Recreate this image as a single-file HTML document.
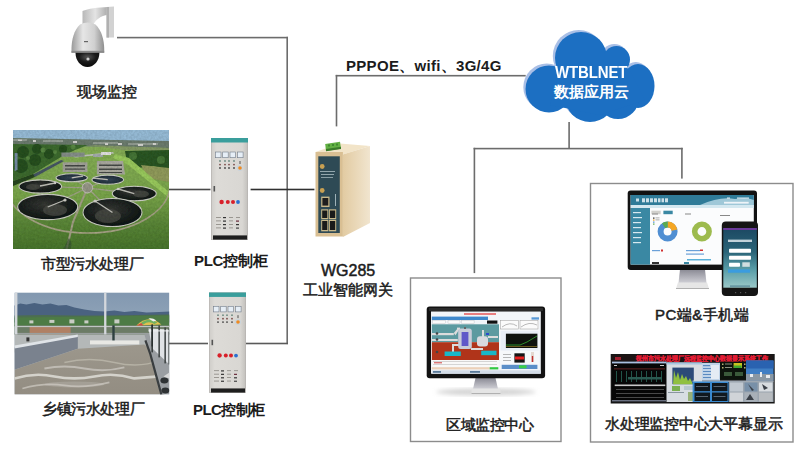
<!DOCTYPE html>
<html><head><meta charset="utf-8">
<style>
html,body{margin:0;padding:0;background:#fff;}
body{width:800px;height:452px;position:relative;overflow:hidden;font-family:"Liberation Sans",sans-serif;color:#222;}
svg{position:absolute;left:0;top:0;}
.t{position:absolute;white-space:nowrap;line-height:1;font-size:15px;color:#1c1c1c;-webkit-text-stroke:0.5px #1c1c1c;}
.b{font-weight:bold;-webkit-text-stroke:0;}
.w{color:#fff;-webkit-text-stroke:0;font-weight:bold;}
</style></head><body>
<svg width="800" height="452" viewBox="0 0 800 452">
<defs>
  <linearGradient id="dome" x1="0" x2="1" y1="0" y2="0">
    <stop offset="0" stop-color="#9a9a9a"/><stop offset="0.35" stop-color="#e6e6e6"/><stop offset="0.7" stop-color="#d0d0d0"/><stop offset="1" stop-color="#8e8e8e"/>
  </linearGradient>
  <linearGradient id="brk" x1="0" x2="1" y1="0" y2="0">
    <stop offset="0" stop-color="#b8b8b8"/><stop offset="0.5" stop-color="#e4e4e4"/><stop offset="1" stop-color="#a8a8a8"/>
  </linearGradient>
  <radialGradient id="lens" cx="0.5" cy="0.3" r="0.7">
    <stop offset="0" stop-color="#555"/><stop offset="0.5" stop-color="#1a1a1a"/><stop offset="1" stop-color="#080808"/>
  </radialGradient>
  <linearGradient id="plcbody" x1="0" x2="1" y1="0" y2="0">
    <stop offset="0" stop-color="#cfcdc9"/><stop offset="0.15" stop-color="#dddbd7"/><stop offset="0.85" stop-color="#d9d7d3"/><stop offset="1" stop-color="#c2c0bc"/>
  </linearGradient>
  <linearGradient id="side" x1="0" x2="1" y1="0" y2="0">
    <stop offset="0" stop-color="#e2cba2"/><stop offset="1" stop-color="#f1e5cf"/>
  </linearGradient>
  <linearGradient id="sky1" x1="0" x2="0" y1="0" y2="1">
    <stop offset="0" stop-color="#93bcd9"/><stop offset="1" stop-color="#c9dbe4"/>
  </linearGradient>
  <linearGradient id="grass1" x1="0" x2="0" y1="0" y2="1">
    <stop offset="0" stop-color="#6f9a4a"/><stop offset="0.5" stop-color="#86ad58"/><stop offset="1" stop-color="#4f7a36"/>
  </linearGradient>
  <linearGradient id="sky2" x1="0" x2="0" y1="0" y2="1">
    <stop offset="0" stop-color="#7f98b2"/><stop offset="1" stop-color="#a9b8c6"/>
  </linearGradient>
  <linearGradient id="water2" x1="0" x2="0" y1="0" y2="1">
    <stop offset="0" stop-color="#8f8a7e"/><stop offset="1" stop-color="#9a9384"/>
  </linearGradient>
  <linearGradient id="phone" x1="0" x2="0" y1="0" y2="1">
    <stop offset="0" stop-color="#1c4862"/><stop offset="0.4" stop-color="#2a6478"/><stop offset="0.7" stop-color="#5a9ea8"/><stop offset="1" stop-color="#9ac8c8"/>
  </linearGradient>
  <linearGradient id="stand" x1="0" x2="0" y1="0" y2="1">
    <stop offset="0" stop-color="#8a8a94"/><stop offset="0.6" stop-color="#b4b4bc"/><stop offset="1" stop-color="#d0d0d6"/>
  </linearGradient>
  <filter id="blur1"><feGaussianBlur stdDeviation="2"/></filter>
  <filter id="blur05"><feGaussianBlur stdDeviation="0.5"/></filter>

  <g id="plc">
    <rect x="0.3" y="0.3" width="36.4" height="101.4" fill="url(#plcbody)" stroke="#a8a6a2" stroke-width="0.6"/>
    <rect x="0" y="0" width="37" height="4.5" fill="#3a9e9c"/>
    <rect x="4.5" y="14" width="5.5" height="5.7" fill="#e6eef6" stroke="#707a88" stroke-width="0.6"/>
    <rect x="11.7" y="14" width="5.5" height="5.7" fill="#e6eef6" stroke="#707a88" stroke-width="0.6"/>
    <rect x="19" y="14" width="5.5" height="5.7" fill="#e6eef6" stroke="#707a88" stroke-width="0.6"/>
    <rect x="26.6" y="14" width="5.5" height="5.7" fill="#e6eef6" stroke="#707a88" stroke-width="0.6"/>
    <g fill="#6a8a80"><circle cx="9" cy="23" r="0.9"/><circle cx="14" cy="23" r="0.9"/><circle cx="18" cy="23" r="0.9"/><circle cx="23" cy="23" r="0.9"/></g>
    <g fill="#7a4a48"><circle cx="9" cy="26.6" r="0.9"/><circle cx="14" cy="26.6" r="0.9"/><circle cx="18" cy="26.6" r="0.9"/><circle cx="23" cy="26.6" r="0.9"/></g>
    <g fill="#444"><circle cx="9" cy="30" r="0.9"/><circle cx="14" cy="30" r="0.9"/><circle cx="18" cy="30" r="0.9"/><circle cx="23" cy="30" r="0.9"/></g>
    <circle cx="29" cy="30" r="3" fill="#c8d4dc"/>
    <circle cx="29" cy="30" r="1.8" fill="#f08a20"/>
    <rect x="28.5" y="23" width="1" height="3" fill="#555"/>
    <rect x="2.5" y="48" width="1.6" height="5.5" fill="#555"/>
    <circle cx="10.6" cy="64" r="2.2" fill="#d8202a"/>
    <circle cx="16.8" cy="64" r="2" fill="#d8202a"/>
    <circle cx="22" cy="64" r="2" fill="#d8202a"/>
    <circle cx="27" cy="64" r="1.9" fill="#2a70d0"/>
    <g fill="#8a8680"><rect x="5" y="79" width="5" height="0.8"/><rect x="12" y="79" width="3" height="1.2" fill="#333"/><rect x="18" y="79" width="4" height="0.8"/><rect x="25" y="79" width="4" height="0.8"/>
    <rect x="5" y="82.5" width="5" height="0.8"/><rect x="12" y="82.5" width="3" height="1.2" fill="#333"/><rect x="18" y="82.5" width="4" height="0.8"/><rect x="25" y="82.5" width="3" height="1.2" fill="#6a2a3a"/>
    <rect x="5" y="86" width="5" height="0.8"/><rect x="12" y="86" width="3" height="1.2" fill="#333"/><rect x="18" y="86" width="4" height="0.8"/><rect x="25" y="86" width="3" height="1.2" fill="#333"/>
    <rect x="5" y="89.5" width="5" height="0.8"/><rect x="12" y="89.5" width="3" height="1.2" fill="#333"/><rect x="18" y="89.5" width="4" height="0.8"/><rect x="25" y="89.5" width="3" height="1.2" fill="#444"/></g>
    <rect x="2" y="97.4" width="34" height="4.2" fill="#1e1e1e"/>
  </g>
</defs>


<!-- camera -->
<g>
  <path d="M82.5,11 C88,8.5 98,7.6 108,7 L108,15 C101,15.5 95,19.5 92.5,27 L82.5,27 Z" fill="url(#brk)"/>
  <path d="M106.5,7 L114,6.5 L114,37.6 L106.5,37.6 Z" fill="#d2d2d2"/>
  <path d="M106.5,7 L109,7 L109,37.6 L106.5,37.6 Z" fill="#b0b0b0"/>
  <path d="M80,24.5 C74,30 71.5,40 71.5,49 L71.5,52.8 L104.2,52.8 L104.2,49 C104.2,40 101.5,30 95.5,24.5 Q87.7,20.5 80,24.5 Z" fill="url(#dome)"/>
  <rect x="71.5" y="50.8" width="32.7" height="2" fill="#8a8a8a"/>
  <path d="M75.5,52.8 L99.4,52.8 C99.4,61 94,67 87.5,67 C81,67 75.5,61 75.5,52.8 Z" fill="url(#lens)"/>
  <circle cx="88" cy="59" r="1.6" fill="#cfcfcf"/>
  <rect x="84" y="41" width="4" height="1.2" fill="#666"/>
</g>

<!-- photo 1 : municipal plant -->
<g>
  <svg x="13" y="130" width="156" height="119" viewBox="0 0 156 119" preserveAspectRatio="none">
    <defs>
      <linearGradient id="g1grass" x1="0" x2="0" y1="0" y2="1">
        <stop offset="0" stop-color="#8fb85e"/><stop offset="0.55" stop-color="#7eab4e"/><stop offset="0.8" stop-color="#5d8a3a"/><stop offset="1" stop-color="#4c7a30"/>
      </linearGradient>
      <radialGradient id="g1dark" cx="0.45" cy="0.4" r="0.7">
        <stop offset="0" stop-color="#3a3c38"/><stop offset="0.6" stop-color="#1c2220"/><stop offset="1" stop-color="#141816"/>
      </radialGradient>
      <radialGradient id="g1navy" cx="0.5" cy="0.5" r="0.6">
        <stop offset="0" stop-color="#3a4a5a"/><stop offset="1" stop-color="#1e2a36"/>
      </radialGradient>
      <filter id="tex1" x="0" y="0" width="1" height="1">
        <feTurbulence type="fractalNoise" baseFrequency="0.45" numOctaves="2" seed="3" result="n"/>
        <feColorMatrix in="n" type="matrix" values="0 0 0 0 0  0 0 0 0 0  0 0 0 0 0  0 0 0 0.35 0" result="na"/>
        <feComposite in="na" in2="SourceGraphic" operator="in" result="nb"/>
        <feMerge><feMergeNode in="SourceGraphic"/><feMergeNode in="nb"/></feMerge>
      </filter>
    </defs>
    <g filter="url(#tex1)">
    <rect width="156" height="119" fill="url(#g1grass)"/>
    <path d="M0,0 L156,0 L156,12 L0,8.5 Z" fill="#9cc2de"/>
    <path d="M0,8 L156,11 L156,18 L0,15 Z" fill="#6f8072"/>
    <g fill="#9aa49a"><rect x="0" y="9" width="14" height="2"/><rect x="30" y="10" width="20" height="2"/><rect x="80" y="12" width="25" height="2"/><rect x="115" y="13" width="30" height="2"/></g>
    <g fill="#dcdcd8"><rect x="20" y="10" width="3" height="2"/><rect x="60" y="11" width="4" height="2"/><rect x="105" y="13" width="4" height="2"/><rect x="125" y="14" width="5" height="2"/><rect x="140" y="13" width="3" height="2"/><rect x="5" y="9.5" width="4" height="1.5"/><rect x="92" y="13" width="3" height="2"/></g>
    <path d="M0,14 L75,15 L62,20 L48,27 L20,44 L0,51 Z" fill="#3f6e32"/>
    <g fill="#2a5224"><circle cx="10" cy="22" r="6"/><circle cx="24" cy="19" r="5"/><circle cx="8" cy="36" r="7"/><circle cx="22" cy="30" r="6"/><circle cx="36" cy="24" r="5"/><circle cx="50" cy="19" r="4"/></g>
    <g fill="#5a8a44"><circle cx="30" cy="20" r="2.5"/><circle cx="15" cy="28" r="2"/><circle cx="42" cy="22" r="2"/><circle cx="60" cy="17" r="2.5"/></g>
    <path d="M1.7,23 L4.5,23 L4.5,40 L1.7,41 Z" fill="#7890a8"/>
    <path d="M19,45 L48,30 L51,31 L22,47 Z" fill="#4a5a68"/>
    <path d="M0,51 L20,44 L22,47 L0,56 Z" fill="#2a4a22"/>
    <path d="M75,15 L156,18 L156,22 L110,20 Z" fill="#8aa06a"/>
    <path d="M112,21 L156,20 L156,40 L140,36 L125,38 L114,32 Z" fill="#2f5a26"/>
    <g fill="#4a7a3a"><circle cx="120" cy="26" r="4"/><circle cx="148" cy="30" r="4"/></g>
    <path d="M128,35 L156,38 L156,52 L135,48 Z" fill="#96a05e"/>
    <path d="M102,24 L116,28 L156,62 L156,68 L114,34 L100,28 Z" fill="#9ed060"/>
    <path d="M60,26 L100,22 L101,23.5 L62,27.5 Z" fill="#c8ccc4"/>
    <rect x="48.4" y="22.5" width="23.3" height="4.3" fill="#8a948e"/>
    <rect x="80" y="24" width="10" height="3" fill="#a8b0b0"/>
    <rect x="88" y="22" width="10" height="3" fill="#e8e8e8"/>
    <path d="M49.7,32.3 L74.4,32.3 L74.4,42 L49.7,42 Z" fill="#a7a89e"/>
    <path d="M83.9,31 L110,31 L112,44.6 L83.9,44.6 Z" fill="#b0b0a6"/>
    <g fill="#4a4e4a"><rect x="52" y="35" width="20" height="1.5"/><rect x="52" y="38.5" width="20" height="1.2"/><rect x="86" y="34.5" width="23" height="1.5"/><rect x="86" y="38.5" width="23" height="1.5"/><rect x="86" y="42" width="23" height="1"/></g>
    <path d="M-7,55 A82,48 0 0 0 157,55" fill="none" stroke="#aca88a" stroke-width="1.6"/>
    <path d="M74.4,57.8 L60,92 L53.7,119" fill="none" stroke="#a8a48a" stroke-width="2"/>
    <g stroke="#a8a890" stroke-width="1.2" fill="none"><line x1="74.4" y1="57.8" x2="58.7" y2="47.8"/><line x1="74.4" y1="57.8" x2="94.8" y2="49.7"/><line x1="74.4" y1="57.8" x2="27.3" y2="56.5"/><line x1="74.4" y1="57.8" x2="121.3" y2="63.6"/><line x1="74.4" y1="57.8" x2="34.7" y2="77"/><line x1="74.4" y1="57.8" x2="99.5" y2="82.5"/></g>
    <g stroke="#d4d6cc" stroke-width="1.1">
      <ellipse cx="58.7" cy="47.8" rx="15.7" ry="4" fill="url(#g1navy)"/>
      <ellipse cx="94.8" cy="49.7" rx="15.8" ry="4.6" fill="url(#g1navy)"/>
      <ellipse cx="27.3" cy="56.5" rx="21.3" ry="6.6" fill="url(#g1dark)"/>
      <ellipse cx="121.3" cy="63.6" rx="22" ry="7.3" fill="url(#g1dark)"/>
      <ellipse cx="34.7" cy="77" rx="30" ry="12.6" fill="url(#g1dark)"/>
      <ellipse cx="99.5" cy="82.5" rx="29.5" ry="14" fill="url(#g1dark)"/>
    </g>
    <g fill="#4c4e48" opacity="0.8"><ellipse cx="42" cy="80" rx="12" ry="6"/><ellipse cx="95" cy="86" rx="13" ry="7"/><ellipse cx="128" cy="64" rx="8" ry="3.5"/><ellipse cx="20" cy="57" rx="7" ry="3"/></g>
    <g stroke="#c8c8c0" stroke-width="1.3"><line x1="27" y1="56" x2="42" y2="53"/><line x1="34.7" y1="77" x2="52" y2="70"/><line x1="99.5" y1="82.5" x2="82" y2="71"/><line x1="121.3" y1="63.6" x2="105" y2="59"/><line x1="58.7" y1="47.8" x2="70" y2="46"/><line x1="94.8" y1="49.7" x2="80" y2="48"/></g>
    <g fill="#d8d8d0"><circle cx="42" cy="53" r="1.3"/><circle cx="52" cy="70" r="1.6"/><circle cx="82" cy="71" r="1.6"/><circle cx="105" cy="59" r="1.2"/></g>
    <circle cx="74.4" cy="57.8" r="5.2" fill="#9c9c8c" stroke="#c8c8bc" stroke-width="1"/>
    <path d="M56,108 Q60,114 58,119 L50,119 Z" fill="#3a5a32" opacity="0.7"/>
    </g>
  </svg>
</g>

<!-- photo 2 : township plant -->
<g>
  <svg x="14.4" y="292.4" width="155" height="102.2" viewBox="0 0 155 102.2" preserveAspectRatio="none">
    <defs>
      <linearGradient id="g2sky" x1="0" x2="0" y1="0" y2="1">
        <stop offset="0" stop-color="#8298b0"/><stop offset="1" stop-color="#b4c0cc"/>
      </linearGradient>
      <linearGradient id="g2water" x1="0" x2="0" y1="0" y2="1">
        <stop offset="0" stop-color="#9c978c"/><stop offset="1" stop-color="#938d82"/>
      </linearGradient>
    </defs>
    <rect width="155" height="102.2" fill="url(#g2sky)"/>
    <path d="M0,13 L6,11 L12,12 L20,10.5 L28,12 L36,11 L44,13 L52,12.5 L60,15 L70,17 L80,18.5 L90,19 L100,18 L110,19.5 L120,18.5 L132,20 L145,19.5 L155,19 L155,30 L0,30 Z" fill="#4a6280"/>
    <path d="M0,23 L30,22.5 L60,23 L90,23 L155,22 L155,34 L0,34 Z" fill="#4c6e50"/>
    <path d="M0,25 L155,23 L155,34 L0,34 Z" fill="#4f8040" opacity="0.7"/>
    <g fill="#c8ccc4"><rect x="15" y="28" width="4" height="3"/><rect x="35" y="27.5" width="5" height="3"/><rect x="55" y="27" width="5" height="4"/><rect x="70" y="28" width="4" height="3"/><rect x="100" y="27" width="5" height="4"/></g>
    <rect x="0" y="33" width="155" height="9.5" fill="#6c7c66"/><rect x="15.2" y="34" width="41" height="8.2" fill="#b08064"/>
    <rect x="0" y="33.5" width="155" height="1.2" fill="#c0c4c4"/>
    <rect x="0" y="40.5" width="155" height="1.2" fill="#9aa0a0"/>
    <path d="M0,42 L135,42 L135,58 L0,60 Z" fill="#b4b8b8"/>
    <path d="M0,55 L63.4,43.4 L63.4,56.4 L0,77.4 Z" fill="#7a828e"/>
    <path d="M0,53 L63.4,42 L63.4,44.5 L0,56 Z" fill="#e0e4e8"/>
    <path d="M0,77.4 L63.4,56.4 L130,52 L140,60 L150,102.2 L0,102.2 Z" fill="url(#g2water)"/>
    <path d="M0,86 Q20,80 40,84 T80,84 T120,86 L145,84" fill="none" stroke="#e4e2dc" stroke-width="2.6" opacity="0.8"/><path d="M30,76 Q50,72 70,76 T110,75" fill="none" stroke="#d8d6d0" stroke-width="2" opacity="0.6"/><ellipse cx="60" cy="92" rx="30" ry="3" fill="#b4b0a8" opacity="0.5"/>
    <path d="M8,96 Q30,90 50,93 T95,90" fill="none" stroke="#d0ccc4" stroke-width="1.6" opacity="0.7"/>
    <path d="M50,70 Q75,64 100,70 T145,68" fill="none" stroke="#c8c4b8" stroke-width="1.5" opacity="0.6"/>
    <rect x="75.6" y="48" width="49.3" height="4" fill="#e8e8e4"/>
    <path d="M130,42 L155,40 L155,102.2 L146,102.2 L134,56 Z" fill="#9a9ea2"/>
    <path d="M134,36 L155,37 L155,72 L138,56 Z" fill="#dfe2e5"/>
    <path d="M131,48 L136,62 L142,84 L147,102.2" fill="none" stroke="#3a3e40" stroke-width="2.2"/>
    <g fill="#3a4040"><rect x="137" y="30" width="1.6" height="30"/><rect x="144" y="33" width="1.5" height="32"/><rect x="150" y="35" width="1.5" height="36"/><rect x="154" y="36" width="1" height="36"/></g>
    <g fill="#f0f2f4"><rect x="134" y="38" width="21" height="1"/></g>
    <g fill="#2e3234"><ellipse cx="150" cy="88" rx="4" ry="3"/><ellipse cx="151" cy="98" rx="4" ry="3"/></g>
    <path d="M149,84 L155,80 L155,86 Z" fill="#d8d8d8"/>
    <rect x="0.6" y="0" width="2.4" height="42" fill="#d4d8dc"/>
    <rect x="89.7" y="0" width="2.3" height="42" fill="#d4d8dc"/>
    <rect x="97.9" y="33" width="2.4" height="15" fill="#2e4040"/>
    <rect x="12" y="45" width="3" height="4" fill="#333"/>
    <path d="M122,33 Q134,21 147,32 Z" fill="#e0c050"/>
    <path d="M126,31 Q134,24 143,30 L140,31.5 Q134,28 129,32 Z" fill="#70b060"/>
    <path d="M122,33 L127,30.5 L129,33 Z" fill="#d04848"/>
    <path d="M134,26 Q138,25 142,28 L139,29 Z" fill="#f0f0f0"/>
    <rect x="137" y="32" width="1.6" height="22" fill="#2a3030"/>
  </svg>
</g>

<!-- PLC cabinets -->
<use href="#plc" x="211" y="138"/>
<use href="#plc" transform="translate(209,292.5) scale(1,0.985)"/>

<!-- router -->
<g>
  <path d="M315.5,152 L342.9,154.5 L370,146 L340,143.5 Z" fill="#f2e4c8"/>
  <path d="M325.2,144 L340,141.8 L341,148.8 L326,151 Z" fill="#62b043"/>
  <path d="M326,149 L341,146.8 L341,149 L326,151.2 Z" fill="#3a7a2a"/>
  <g fill="#3f8a30"><rect x="328" y="144.5" width="2" height="2"/><rect x="332" y="144" width="2" height="2"/><rect x="336" y="143.5" width="2" height="2"/></g>
  <path d="M342.9,154.5 L370,146 L370,223 L342.9,237 Z" fill="url(#side)"/>
  <rect x="315.5" y="152" width="27.4" height="84.5" fill="#d9bf93"/>
  <rect x="318.3" y="156.3" width="21.5" height="76.7" fill="#2e4a55"/>
  <circle cx="322.2" cy="166.5" r="2.4" fill="#c8a052"/>
  <circle cx="322.2" cy="190.5" r="2.4" fill="#c8a052"/>
  <g fill="#9fb2b8"><rect x="320" y="171" width="15" height="0.9"/><rect x="321" y="174" width="13" height="0.9"/><rect x="321" y="177" width="12" height="0.8"/><rect x="335" y="194" width="1" height="12"/></g>
  <rect x="321.2" y="196.6" width="8.3" height="10.4" fill="#c9b88a"/>
  <rect x="322.4" y="198" width="5.9" height="7.6" fill="#1e1e1e"/>
  <g fill="#c9b88a"><rect x="321.2" y="209.3" width="7.1" height="9.7"/><rect x="328.9" y="209.3" width="7.3" height="9.7"/><rect x="321.2" y="219.7" width="7.1" height="11.6"/><rect x="328.9" y="219.7" width="7.3" height="11.6"/></g>
  <g fill="#1a1a1a"><rect x="322.2" y="210.5" width="5.1" height="7.5"/><rect x="329.9" y="210.5" width="5.3" height="7.5"/><rect x="322.2" y="221" width="5.1" height="9"/><rect x="329.9" y="221" width="5.3" height="9"/></g>
</g>

<!-- cloud -->
<g>
  <g fill="#a9bfe6" transform="translate(-2.2,-2)"><circle cx="581" cy="58" r="26"/><circle cx="616.5" cy="59.5" r="13.5"/><ellipse cx="638" cy="86" rx="16.5" ry="22"/><circle cx="549" cy="89" r="23.5"/><circle cx="590" cy="97" r="25"/><circle cx="618" cy="98" r="21"/><path d="M560,70 L600,50 L630,70 L645,100 L600,115 L550,105 Z"/></g>
  <g fill="#1c6fc2"><circle cx="581" cy="58" r="26"/><circle cx="616.5" cy="59.5" r="13.5"/><ellipse cx="638" cy="86" rx="16.5" ry="22"/><circle cx="549" cy="89" r="23.5"/><circle cx="590" cy="97" r="25"/><circle cx="618" cy="98" r="21"/><path d="M560,70 L600,50 L630,70 L645,100 L600,115 L550,105 Z"/></g>
</g>

<!-- monitor 1 (box 1) -->
<g>
  <ellipse cx="486" cy="392" rx="50" ry="3.5" fill="#d4d4d4" filter="url(#blur1)"/>
  <path d="M475.5,378 L495.5,378 L498,389 L473,389 Z" fill="url(#stand)"/>
  <rect x="471.5" y="388.5" width="29" height="5.5" fill="#e4e4e4"/>
  <rect x="471.5" y="393" width="29" height="1" fill="#b0b0b0"/>
  <rect x="426.7" y="306.4" width="118.4" height="71.8" rx="3" fill="#121212"/>
  <path d="M429,308 L543,308 L543,311 L429,311 Z" fill="#2a2a2a"/>
  <rect x="431" y="311.5" width="109.8" height="62.2" fill="#f2f5f9"/>
  <rect x="464" y="313.2" width="32" height="1.6" fill="#e03030" opacity="0.75"/>
  <rect x="431.8" y="316.6" width="56.2" height="3.4" fill="#3f88cc"/>
  <rect x="531.5" y="317.3" width="7.5" height="2.3" fill="#5a9ad8"/>
  <g fill="#fafafa" stroke="#b8bcc0" stroke-width="0.4"><rect x="432.6" y="320.6" width="13" height="3"/><rect x="448" y="320.6" width="12" height="3"/><rect x="461.6" y="320.6" width="12.5" height="3"/></g>
  <rect x="487" y="320.5" width="10.4" height="3.2" fill="#111"/>
  <rect x="431.8" y="324.3" width="67.2" height="17.9" fill="#5c9aa0"/>
  <rect x="431.8" y="342.2" width="67.2" height="17.8" fill="#b0341a"/>
  <g fill="#dcdcdc">
    <rect x="431.8" y="333" width="22" height="2.2"/><path d="M453.8,333 L458,328 L459.5,329 L455.5,335.2 Z"/><rect x="457" y="327.6" width="3" height="1.6"/>
    <rect x="431.8" y="339" width="26" height="2"/>
    <rect x="452" y="345" width="2" height="10"/><rect x="452" y="344" width="8" height="2"/>
    <rect x="471" y="348" width="12" height="2"/><rect x="488" y="336" width="10" height="2"/><rect x="482" y="330" width="2" height="7"/>
  </g>
  <g fill="#444"><circle cx="437" cy="333.5" r="1.3"/><circle cx="437" cy="339.5" r="1.3"/><circle cx="437" cy="352" r="1.3"/></g>
  <rect x="458.2" y="328.6" width="13.6" height="20.4" rx="2.5" fill="#c8ccd8"/>
  <rect x="461.6" y="332" width="6.8" height="14" fill="#6058c8"/>
  <rect x="464" y="327" width="2" height="2" fill="#666"/>
  <rect x="477" y="336.2" width="11" height="10.2" rx="3" fill="#d8dadf"/>
  <g fill="#18b8c8"><rect x="444.6" y="351.5" width="16.2" height="4.5"/><rect x="481.2" y="350.7" width="15.3" height="4.5"/></g>
  <rect x="486" y="333" width="3" height="2" fill="#2a4ad0"/>
  <rect x="431.8" y="360" width="67.2" height="7.2" fill="#f8f8f8"/>
  <g fill="#b0b0b0"><rect x="433" y="361.5" width="64" height="0.5"/><rect x="433" y="364" width="64" height="0.5"/></g>
  <g fill="#d04040"><rect x="434" y="362.3" width="8" height="1"/></g>
  <rect x="431.8" y="367.2" width="58" height="2.2" fill="#ecd0b8"/>
  <rect x="489.7" y="367.2" width="8.6" height="2.2" fill="#30c840"/>
  <rect x="431.8" y="370.3" width="109" height="3.4" fill="#d4dde8"/>
  <g fill="#5a7a9a"><rect x="433" y="371" width="8" height="1.8"/><rect x="470" y="371" width="10" height="1.8"/></g>
  <rect x="499" y="320" width="40" height="9.4" fill="#fbfbfb"/>
  <g fill="none" stroke="#999" stroke-width="0.5"><rect x="500.5" y="320.5" width="18" height="8.5"/><rect x="520" y="320.5" width="18" height="8.5"/></g>
  <path d="M502,327 Q510,321 517,326 M521,327 Q529,321 537,325" stroke="#777" stroke-width="0.5" fill="none"/>
  <rect x="500.8" y="331" width="37.5" height="19.7" fill="#e8eef6"/>
  <rect x="505.9" y="333.7" width="31.5" height="14.3" fill="#0e120e"/>
  <path d="M506,345 L520,345 L527,342 L537,336" stroke="#38c038" stroke-width="0.7" fill="none"/>
  <path d="M506,346.5 L537,346.5" stroke="#c0a030" stroke-width="0.5"/>
  <rect x="500" y="350.7" width="39" height="13.6" fill="#f6f8fa"/>
  <rect x="514.4" y="353.3" width="10.3" height="9.3" fill="#151515"/>
  <rect x="515" y="356.5" width="9" height="3" fill="#e82020"/>
  <rect x="531" y="352" width="3" height="10" fill="#e4d8d0"/><rect x="531.8" y="356" width="1.4" height="6" fill="#c03030"/>
  <g fill="#999"><rect x="503" y="354" width="8" height="0.7"/><rect x="503" y="357" width="8" height="0.7"/><rect x="503" y="360" width="8" height="0.7"/></g>
  <rect x="501.7" y="364.8" width="35.7" height="4.2" fill="#5a8ec8"/>
  <rect x="519" y="365.3" width="7.5" height="3" fill="#38d048"/>
</g>

<!-- PC monitor (box 2) -->
<g>
  <path d="M680,269.5 L705,269.5 L706.5,283 L678.5,283 Z" fill="url(#stand)"/>
  <path d="M678,282.5 L707,282.5 L709,288.7 L676,288.7 Z" fill="#e6e6e6"/>
  <rect x="676" y="288" width="33" height="1" fill="#b0b0b0"/>
  <rect x="627.7" y="190.5" width="129.3" height="79.5" rx="3" fill="#121212"/>
  <rect x="630.6" y="195" width="123.2" height="69.6" fill="#fbfcfd"/>
  <rect x="630.6" y="195" width="123.2" height="10" fill="#2f7b98"/>
  <path d="M700,205 Q720,196 735,199 Q748,197 753.8,200 L753.8,205 Z" fill="#9fc8d8"/>
  <g fill="#e8f2f6" opacity="0.85"><rect x="636" y="198.5" width="3" height="3"/><rect x="642" y="198.3" width="3" height="4"/><rect x="646" y="198.3" width="3" height="4"/><rect x="650" y="198.3" width="3" height="4"/><rect x="654" y="198.3" width="3" height="4"/><rect x="658" y="198.3" width="2.5" height="4"/><rect x="661.5" y="198.3" width="2.5" height="4"/><rect x="665" y="198.3" width="3" height="4"/></g>
  <rect x="724" y="201.8" width="24.7" height="1.8" fill="#eef4f8"/><g fill="#e0ecf2"><rect x="727" y="197.5" width="3" height="1.2"/><rect x="737" y="197.5" width="12" height="1.2"/></g>
  <rect x="630.6" y="205" width="123.2" height="3" fill="#d4e8f0"/>
  <rect x="630.6" y="208" width="19.4" height="56.6" fill="#3a88a3"/>
  <g fill="#d8eaf0"><rect x="633" y="212" width="8" height="1.2"/><rect x="633" y="217" width="9" height="1.2"/><rect x="633" y="222" width="8" height="1.2"/><rect x="633" y="227" width="8" height="1.2"/><rect x="633" y="232" width="9" height="1.2"/><rect x="633" y="237" width="8" height="1.2"/><rect x="633" y="242" width="8" height="1.2"/></g>
  <rect x="651.4" y="210.7" width="9.3" height="3.5" fill="#d0d0cc"/>
  <rect x="663.4" y="210.7" width="9.3" height="3.5" fill="#3a88a3"/>
  <g><rect x="653" y="217.5" width="1.5" height="1.2" fill="#333"/><rect x="653" y="219.5" width="1.5" height="1.2" fill="#f5a623"/><rect x="653" y="221.5" width="1.5" height="1.2" fill="#4f8ed2"/><rect x="653" y="223.5" width="1.5" height="1.2" fill="#5aaa50"/><rect x="655.5" y="217.5" width="4" height="0.8" fill="#999"/><rect x="655.5" y="219.5" width="4" height="0.8" fill="#999"/></g>
  <circle cx="667.6" cy="231.5" r="7" fill="none" stroke="#4f8ed2" stroke-width="6"/>
  <path d="M667.6,221.5 A10,10 0 0 1 677.4,229.5 L671.5,230.7 A4,4 0 0 0 667.6,227.5 Z" fill="#f5a623"/>
  <path d="M662,223.3 A10,10 0 0 1 667.6,221.5 L667.6,227.5 A4,4 0 0 0 665.4,228.2 Z" fill="#5aaa50"/>
  <circle cx="701.9" cy="231.5" r="7.2" fill="none" stroke="#9dbb4e" stroke-width="5.6"/>
  <g fill="#6aa0d8"><rect x="652" y="250" width="8" height="1.2"/><rect x="686" y="250" width="14" height="1.2"/><rect x="686" y="253.5" width="18" height="1.2"/></g>
  <g fill="#d03030"><rect x="661" y="249.5" width="2" height="2"/><rect x="700" y="249.5" width="3" height="1.5"/></g>
  <rect x="687" y="259" width="24" height="1.5" fill="#5ab0d8"/>
  <rect x="652" y="262" width="7" height="2" fill="#333"/>
  <rect x="684" y="262" width="5" height="2" fill="#3a88a3"/>
  <g fill="#888"><rect x="652" y="213.5" width="6" height="1"/><rect x="685" y="213.5" width="6" height="1"/><rect x="720" y="215" width="10" height="1"/></g>
</g>

<!-- phone -->
<g>
  <rect x="721.8" y="221.6" width="36.2" height="74.4" rx="4" fill="#151515"/>
  <rect x="723.3" y="228" width="33.5" height="59.7" fill="url(#phone)"/>
  <rect x="723.3" y="228" width="33.5" height="2" fill="#6a3a9a"/>
  <rect x="730" y="285.5" width="20" height="1.2" fill="#3a6a80" opacity="0.7"/>
  <g fill="#e8f0f4"><rect x="728" y="239.6" width="24" height="2.4" opacity="0.8"/></g>
  <g fill="#ffffff"><rect x="729" y="248.8" width="22" height="4" rx="0.8"/><rect x="729" y="255.8" width="22" height="4" rx="0.8"/><rect x="729" y="262.8" width="11" height="4" rx="0.8"/></g>
  <rect x="742.3" y="262.3" width="7.5" height="4.5" fill="#e8ecec" opacity="0.85"/>
  <rect x="728" y="269.4" width="22" height="3.3" fill="#3a9ce0"/>
  <g fill="#555"><rect x="735" y="292" width="1.2" height="1.2"/><rect x="740" y="292" width="1.2" height="1.2"/><rect x="745" y="292" width="1.2" height="1.2"/></g>
</g>

<!-- big display wall -->
<g>
  <rect x="610.7" y="354" width="164" height="49.5" fill="#161616"/>
  <rect x="612" y="355" width="161" height="6.5" fill="#1e1414"/>
  <rect x="615" y="357" width="6" height="3" fill="#a02030"/>
  <text x="636" y="361" font-family="Liberation Serif" font-size="7.4" font-weight="bold" fill="#e41c34" stroke="#e41c34" stroke-width="0.25" textLength="132" lengthAdjust="spacingAndGlyphs">抚州市污水处理厂远程监控中心数据显示系统工作</text>
  <rect x="612" y="361.6" width="54.5" height="40.4" fill="#070707"/>
  <rect x="612" y="361.6" width="54.5" height="1.8" fill="#a8c0e0"/>
  <rect x="614" y="365" width="3" height="1" fill="#ccc"/>
  <rect x="660" y="365" width="4" height="1" fill="#ccc"/>
  <rect x="614" y="368.5" width="51" height="0.8" fill="#7a2a2a"/>
  <g fill="#2a6a5a"><rect x="616" y="371" width="0.8" height="11"/><rect x="621" y="371" width="0.8" height="11"/><rect x="626" y="371" width="0.8" height="11"/><rect x="631" y="371" width="0.8" height="11"/><rect x="636" y="371" width="0.8" height="11"/><rect x="641" y="371" width="0.8" height="11"/><rect x="646" y="371" width="0.8" height="11"/><rect x="651" y="371" width="0.8" height="11"/><rect x="656" y="371" width="0.8" height="11"/><rect x="661" y="371" width="0.8" height="11"/></g>
  <rect x="628" y="377" width="34" height="2.5" fill="#2a5a50"/>
  <rect x="614.7" y="384.5" width="50.6" height="1.6" fill="#c8c8c8"/>
  <g fill="#5a5a5a"><rect x="616" y="389" width="48" height="0.8"/><rect x="616" y="393" width="48" height="0.8"/><rect x="616" y="397" width="48" height="0.8"/></g>
  <rect x="612" y="400" width="54" height="1.5" fill="#6a7080"/>
  <rect x="666.5" y="362.5" width="35.5" height="39.5" fill="#d8dde2"/>
  <rect x="666.5" y="362.5" width="35.5" height="2" fill="#a8c4e0"/>
  <rect x="672.4" y="367.6" width="21.4" height="16.6" fill="#2c4a78"/>
  <path d="M673,384.2 L674,370 L676,378 L678,372 L680,380 L682,374 L684,379 L686,376 L688,381 L690,378 L693,384.2 Z" fill="#90c040"/>
  <rect x="672" y="386" width="8" height="5" fill="#7ab050"/>
  <rect x="684" y="386" width="16" height="4" fill="#b8c8d0"/>
  <rect x="688" y="392" width="12" height="9" fill="#98b078"/>
  <rect x="668" y="392" width="16" height="1" fill="#8a96a0"/>
  <rect x="702" y="362.8" width="18" height="17.8" fill="#c0d4e8"/>
  <g fill="#5a8ac0"><rect x="703" y="365" width="7" height="1.2"/><rect x="703" y="368" width="16" height="1"/><rect x="703" y="371" width="16" height="1"/><rect x="703" y="374" width="16" height="1"/><rect x="703" y="377" width="16" height="1"/></g>
  <rect x="711" y="365" width="8" height="14" fill="#e4ecf4"/>
  <rect x="720" y="361.6" width="26" height="17.8" fill="#0c140c"/>
  <rect x="733.6" y="363" width="8.4" height="5" fill="#c8c020"/>
  <rect x="734" y="365.5" width="7.6" height="2.5" fill="#40a830"/>
  <g fill="#b8b070"><rect x="722" y="363.5" width="1.5" height="1.5"/><rect x="722" y="367" width="1.5" height="1.5"/><rect x="744" y="363.5" width="1.5" height="1.5"/><rect x="744" y="367" width="1.5" height="1.5"/></g>
  <g fill="#8a9080"><rect x="725" y="363.5" width="7" height="1"/><rect x="725" y="367" width="7" height="1"/></g>
  <g fill="#3a5a3a"><rect x="724" y="372" width="8" height="4"/><rect x="735" y="372" width="8" height="4"/></g>
  <rect x="746" y="360.5" width="27.5" height="20" fill="#3f7ec4"/>
  <rect x="746" y="360.5" width="27.5" height="8" fill="#2a62b0"/>
  <rect x="746" y="374" width="27.5" height="6.5" fill="#8a98a4"/>
  <g fill="#e8ecf0"><rect x="750" y="374" width="3" height="3"/><rect x="760" y="372" width="2" height="5"/><rect x="766" y="375" width="4" height="3"/></g>
  <rect x="692.6" y="380.6" width="81" height="1.2" fill="#c8d4e0"/>
  <rect x="692.6" y="381.5" width="36" height="20.5" fill="#3a8ad0"/>
  <g fill="#10181e"><rect x="694.5" y="383" width="15.5" height="8.2"/><rect x="712" y="383" width="15.5" height="8.2"/><rect x="694.5" y="392.5" width="15.5" height="8.5"/><rect x="712" y="392.5" width="15.5" height="8.5"/></g>
  <g fill="#6a7a88"><rect x="696" y="386" width="12" height="0.8"/><rect x="713.5" y="386" width="12" height="0.8"/><rect x="696" y="396" width="12" height="0.8"/><rect x="713.5" y="396" width="12" height="0.8"/></g>
  <rect x="729" y="381.5" width="44.5" height="20.5" fill="#9aa4ae"/>
  <g><rect x="730" y="382.5" width="13" height="9" fill="#c0c8d0"/><rect x="744.5" y="382.5" width="13" height="9" fill="#7890a8"/><rect x="759" y="382.5" width="13.5" height="9" fill="#d8dce0"/><rect x="730" y="392.5" width="13" height="9" fill="#d0d4d8"/><rect x="744.5" y="392.5" width="13" height="9" fill="#a8b0b8"/><path d="M746,400 L750,394 L754,400 Z" fill="#3a4048"/><rect x="759" y="392.5" width="13.5" height="9" fill="#b8bcc0"/></g>
  <g fill="#3a4048"><path d="M748,384 L754,390 L752,391 Z"/><path d="M762,384 L768,388 L764,390 Z"/></g>
</g>

<!-- connector lines -->
<g fill="#6c6c6c">
  <rect x="117" y="36.8" width="171" height="1.6"/>
  <rect x="286.4" y="36.8" width="1.6" height="307.3"/>
  <rect x="169" y="188.7" width="41.5" height="1.6" fill="#4a4a4a"/>
  <rect x="250.6" y="188.7" width="63.8" height="1.6" fill="#303030"/>
  <rect x="169" y="342.7" width="39" height="1.6" fill="#5a5a5a"/>
  <rect x="246" y="342.7" width="42" height="1.6" fill="#5a5a5a"/>
  <rect x="335.7" y="74.9" width="1.6" height="51.5"/>
  <rect x="335.7" y="74.9" width="190" height="1.6"/>
  <rect x="568.3" y="122" width="1.6" height="27"/>
  <rect x="473.6" y="147.8" width="209.1" height="1.6"/>
  <rect x="473.6" y="147.8" width="1.6" height="125.3"/>
  <rect x="681.1" y="147.8" width="1.6" height="30.8"/>
</g>
<!-- boxes -->
<rect x="410.5" y="278" width="150.5" height="163.5" fill="none" stroke="#8c8c8c" stroke-width="1.4"/>
<rect x="590.5" y="183.5" width="202.5" height="258.5" fill="none" stroke="#8c8c8c" stroke-width="1.4"/>

</svg>
<div class="t" style="left:77px;top:84px">现场监控</div>
<div class="t" style="left:41px;top:256px;letter-spacing:-0.4px">市型污水处理厂</div>
<div class="t b" style="left:194px;top:253px;letter-spacing:-0.3px">PLC控制柜</div>
<div class="t" style="left:42px;top:401px;letter-spacing:-0.4px">乡镇污水处理厂</div>
<div class="t b" style="left:193px;top:402px;letter-spacing:-0.6px">PLC控制柜</div>
<div class="t" style="left:321px;top:263px;font-size:16px">WG285</div>
<div class="t" style="left:303px;top:282px">工业智能网关</div>
<div class="t b" style="left:346px;top:58px;letter-spacing:0.3px">PPPOE、wifi、3G/4G</div>
<div class="t w" style="left:555px;top:62.5px;font-size:15px;letter-spacing:-0.15px;transform:scale(1,1.14);transform-origin:0 0">WTBLNET</div>
<div class="t w" style="left:554px;top:84px">数据应用云</div>
<div class="t" style="left:446px;top:417px;letter-spacing:-0.5px">区域监控中心</div>
<div class="t" style="left:655px;top:307px;letter-spacing:0.5px">PC端&amp;手机端</div>
<div class="t" style="left:605px;top:416px;letter-spacing:-0.22px">水处理监控中心大平幕显示</div>
</body></html>
